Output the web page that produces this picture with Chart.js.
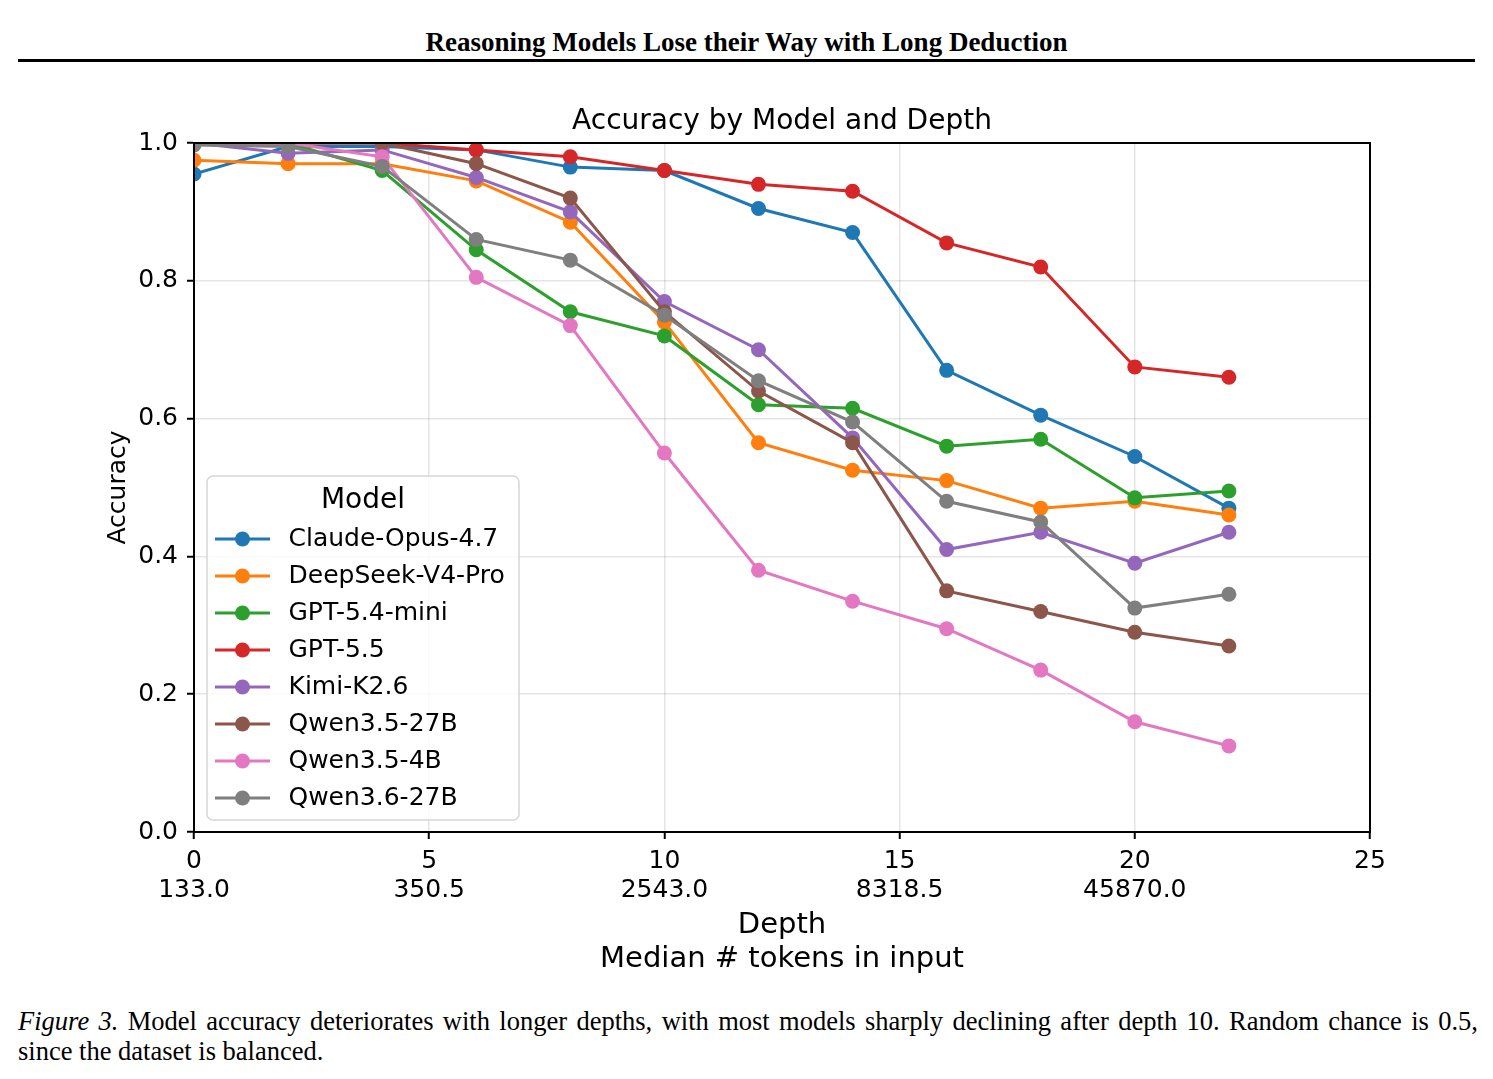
<!DOCTYPE html>
<html>

<head>
    <title>Accuracy by Model and Depth</title>
    <script src="https://cdn.jsdelivr.net/npm/chart.js"></script>
    <style>
        body { margin: 0; background: #fff; }
        #header { position: absolute; top: 27px; left: 0; width: 1493px; text-align: center;
                  font: bold 27px "Liberation Serif", serif; color: #000; }
        #rule { position: absolute; top: 59px; left: 18px; width: 1457px; border-top: 3px solid #000; }
        #plot { position: absolute; top: 0; left: 0; }
        .cap { position: absolute; left: 18px; width: 1460px; font: 26.5px "Liberation Serif", serif; color: #000; }
        #cap1 { top: 1006px; text-align: justify; text-align-last: justify; }
        #cap2 { top: 1036px; }
    </style>
</head>

<body>
    <div id="header">Reasoning Models Lose their Way with Long Deduction</div>
    <div id="rule"></div>
    <canvas id="plot" width="1493" height="990"></canvas>
    <div class="cap" id="cap1"><i>Figure 3.</i> Model accuracy deteriorates with longer depths, with most models sharply declining after depth 10. Random chance is 0.5,</div>
    <div class="cap" id="cap2">since the dataset is balanced.</div>

    <script>
        // depths measured (x) and the median token counts shown under the major ticks
        const depths = [0, 2, 4, 6, 8, 10, 12, 14, 16, 18, 20, 22];
        const tickDepths = [0, 5, 10, 15, 20];
        const tickTokens = ['133.0', '350.5', '2543.0', '8318.5', '45870.0'];

        const models = ['Claude-Opus-4.7', 'DeepSeek-V4-Pro', 'GPT-5.4-mini', 'GPT-5.5',
            'Kimi-K2.6', 'Qwen3.5-27B', 'Qwen3.5-4B', 'Qwen3.6-27B'];

        const claudeOpus = [0.955, 0.995, 0.995, 0.99, 0.965, 0.96, 0.905, 0.87, 0.67, 0.605, 0.545, 0.47];
        const deepseekPro = [0.975, 0.97, 0.97, 0.945, 0.885, 0.74, 0.565, 0.525, 0.51, 0.47, 0.48, 0.46];
        const gpt54mini = [1.0, 1.0, 0.96, 0.845, 0.755, 0.72, 0.62, 0.615, 0.56, 0.57, 0.485, 0.495];
        const gpt55 = [1.0, 1.0, 1.0, 0.99, 0.98, 0.96, 0.94, 0.93, 0.855, 0.82, 0.675, 0.66];
        const kimiK26 = [1.0, 0.985, 0.99, 0.95, 0.90, 0.77, 0.70, 0.572, 0.41, 0.435, 0.39, 0.435];
        const qwen35_27b = [1.0, 1.0, 1.0, 0.97, 0.92, 0.755, 0.64, 0.565, 0.35, 0.32, 0.29, 0.27];
        const qwen35_4b = [1.0, 1.0, 0.98, 0.805, 0.735, 0.55, 0.38, 0.335, 0.295, 0.235, 0.16, 0.125];
        const qwen36_27b = [0.997, 0.995, 0.966, 0.86, 0.83, 0.75, 0.655, 0.595, 0.48, 0.45, 0.325, 0.345];

        const seriesValues = [claudeOpus, deepseekPro, gpt54mini, gpt55, kimiK26, qwen35_27b, qwen35_4b, qwen36_27b];
        const colors = ['#1f77b4', '#ff7f0e', '#2ca02c', '#d62728', '#9467bd', '#8c564b', '#e377c2', '#7f7f7f'];

        const FONT = 'DejaVu Sans';
        Chart.defaults.color = '#000';
        Chart.defaults.font.family = FONT;

        // legend handle: a short line with a marker in the middle
        function legendIcon(color) {
            const c = document.createElement('canvas');
            c.width = 61; c.height = 18;
            const g = c.getContext('2d');
            g.strokeStyle = color; g.lineWidth = 3;
            g.beginPath(); g.moveTo(0, 9); g.lineTo(55, 9); g.stroke();
            g.fillStyle = color;
            g.beginPath(); g.arc(27.5, 9, 7.5, 0, Math.PI * 2); g.fill();
            return c;
        }
        const icons = colors.map(legendIcon);

        const datasets = models.map((name, i) => ({
            label: name,
            data: depths.map((d, j) => ({ x: d, y: seriesValues[i][j] })),
            borderColor: colors[i],
            backgroundColor: colors[i],
            pointBackgroundColor: colors[i],
            pointBorderColor: colors[i],
            borderWidth: 3,
            pointRadius: 7.5,
            pointBorderWidth: 0,
            tension: 0,
            clip: 0,
            order: models.length - 1 - i   // later models drawn on top, like matplotlib
        }));

        // legend box sits inside the plot, lower left, with a white rounded frame
        const legendInPlot = {
            id: 'legendInPlot',
            afterLayout(chart) {
                const ca = chart.chartArea;
                const lg = chart.legend;
                const fl = ca.left + 13, fr = ca.left + 325, ft = ca.bottom - 356, fb = ca.bottom - 12;
                lg.left = fl - 4; lg.right = fr + 4; lg.width = lg.right - lg.left;
                lg.top = ft + 10; lg.bottom = fb + 20; lg.height = lg.bottom - lg.top;
                lg._frame = { fl, fr, ft, fb };
                if (!lg._wrapped) {
                    const orig = lg.draw.bind(lg);
                    lg.draw = function () {
                        const { fl, fr, ft, fb } = this._frame;
                        const ctx = this.ctx;
                        ctx.save();
                        ctx.beginPath();
                        ctx.roundRect(fl, ft, fr - fl, fb - ft, 6);
                        ctx.fillStyle = 'rgba(255,255,255,0.8)';
                        ctx.fill();
                        ctx.strokeStyle = '#d6d6d6';
                        ctx.lineWidth = 1.5;
                        ctx.stroke();
                        ctx.restore();
                        orig();
                    };
                    lg._wrapped = true;
                }
            },
            afterDatasetsDraw(chart) {
                const { left, top, right, bottom } = chart.chartArea;
                const ctx = chart.ctx;
                ctx.save();
                ctx.strokeStyle = '#000';
                ctx.lineWidth = 2;
                ctx.strokeRect(left, top, right - left, bottom - top);
                ctx.restore();
            }
        };

        const ctx = document.getElementById('plot').getContext('2d');
        new Chart(ctx, {
            type: 'line',
            data: { datasets },
            plugins: [legendInPlot],
            options: {
                responsive: false,
                animation: false,
                layout: { padding: { top: 102.2, left: 0, right: 123, bottom: 13.5 } },
                plugins: {
                    title: {
                        display: true,
                        fullSize: false,
                        text: 'Accuracy by Model and Depth',
                        font: { family: FONT, size: 28, weight: 'normal', lineHeight: 1.2 },
                        color: '#000',
                        padding: { top: 3, bottom: 4.2 }
                    },
                    legend: {
                        position: 'chartArea',
                        align: 'start',
                        title: {
                            display: true,
                            text: 'Model',
                            color: '#000',
                            font: { family: FONT, size: 28, lineHeight: 0.98 },
                            padding: { top: 1, bottom: 0.06 }
                        },
                        labels: {
                            usePointStyle: true,
                            pointStyleWidth: 61,
                            padding: 12,
                            color: '#000',
                            font: { family: FONT, size: 25 },
                            generateLabels: () => models.map((m, i) => ({
                                text: m,
                                datasetIndex: i,
                                pointStyle: icons[i],
                                fillStyle: colors[i],
                                strokeStyle: colors[i],
                                lineWidth: 0,
                                hidden: false
                            }))
                        }
                    },
                    tooltip: { enabled: false }
                },
                scales: {
                    x: {
                        type: 'linear',
                        min: 0,
                        max: 25,
                        afterFit: (s) => { s.height = 144.5; },
                        ticks: {
                            stepSize: 5,
                            padding: 7.5,
                            color: '#000',
                            font: { family: FONT, size: 25, lineHeight: 1.16 },
                            callback: (v) => {
                                const k = tickDepths.indexOf(v);
                                return k >= 0 ? [String(v), tickTokens[k]] : String(v);
                            }
                        },
                        grid: { color: 'rgba(0,0,0,0.1)', lineWidth: 1.5, tickLength: 7, tickColor: '#000', tickWidth: 2 },
                        border: { color: '#000', width: 2 },
                        title: {
                            display: true,
                            text: ['Depth', 'Median # tokens in input'],
                            color: '#000',
                            font: { family: FONT, size: 29, lineHeight: 1.17 },
                            padding: { top: 0, bottom: 0 }
                        }
                    },
                    y: {
                        min: 0,
                        max: 1,
                        afterFit: (s) => { s.width = 194; },
                        ticks: {
                            stepSize: 0.2,
                            padding: 9,
                            color: '#000',
                            font: { family: FONT, size: 25 },
                            callback: (v) => v.toFixed(1)
                        },
                        grid: { color: 'rgba(0,0,0,0.1)', lineWidth: 1.5, tickLength: 7, tickColor: '#000', tickWidth: 2 },
                        border: { color: '#000', width: 2 },
                        title: {
                            display: true,
                            text: 'Accuracy',
                            color: '#000',
                            font: { family: FONT, size: 25, lineHeight: 1.2 },
                            padding: { top: 103, bottom: 0 }
                        }
                    }
                }
            }
        });
    </script>
</body>

</html>
